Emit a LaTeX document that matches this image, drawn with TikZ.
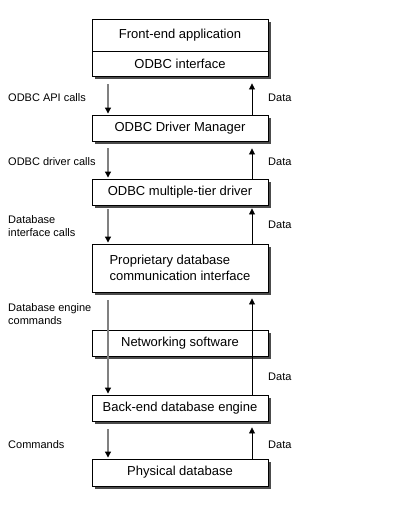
\documentclass[tikz,border=0pt]{standalone}
\usepackage{fontspec}
\setmainfont{Liberation Sans}
\usetikzlibrary{arrows.meta, shadows}

\begin{document}
\begin{tikzpicture}[x=1pt, y=-1pt,
layer/.style = {draw, fill=white, line width=0.9pt,
                minimum width=176pt, inner sep=0pt,
                font=\fontsize{13}{16}\selectfont,
                general shadow={fill=black!70, shadow xshift=3pt, shadow yshift=-3pt}},
note/.style  = {inner sep=0pt, anchor=west, align=left,
                font=\fontsize{11}{13}\selectfont},
calls/.style = {draw=black!50, line width=1.1pt,
                -{Triangle[black, width=6pt, length=6pt]}},
data/.style  = {draw=black, line width=0.8pt,
                -{Triangle[width=6pt, length=6pt]}},
                    ]
\useasboundingbox (0,0) rectangle (409,527);
%-------
\node[layer, minimum height=32pt] (frontend)   at (180,35)    {Front-end application};
\node[layer, minimum height=25pt] (odbcif)     at (180,63.5)  {ODBC interface};
\node[layer, minimum height=26pt] (manager)    at (180,128)   {ODBC Driver Manager};
\node[layer, minimum height=26pt] (multitier)  at (180,192)   {ODBC multiple-tier driver};
\node[layer, minimum height=48pt, align=left]
                                  (proprietary) at (180,268)  {Proprietary database\\
                                                               communication interface};
\node[layer, minimum height=26pt] (network)    at (180,343)   {Networking software};
\node[layer, minimum height=26pt] (backend)    at (180,408)   {Back-end database engine};
\node[layer, minimum height=27pt] (physical)   at (180,472.5) {Physical database};
% labels
\node[note] (apicalls)    at (8,98)    {ODBC API calls};
\node[note] (drvcalls)    at (8,162)   {ODBC driver calls};
\node[note] (ifcalls)     at (8,226.5) {Database\\interface calls};
\node[note] (enginecmds)  at (8,314.5) {Database engine\\commands};
\node[note] (commands)    at (8,445)   {Commands};
%
\node[note] (data1) at (268,98)  {Data};
\node[note] (data2) at (268,162) {Data};
\node[note] (data3) at (268,225) {Data};
\node[note] (data4) at (268,377) {Data};
\node[note] (data5) at (268,445) {Data};
% edges
\path[every edge/.append style=calls]
        ([xshift=-72pt, yshift=-8pt] odbcif.south)      edge ([xshift=-72pt, yshift=1pt] manager.north)
        ([xshift=-72pt, yshift=-7pt] manager.south)     edge ([xshift=-72pt, yshift=1pt] multitier.north)
        ([xshift=-72pt, yshift=-4pt] multitier.south)   edge ([xshift=-72pt, yshift=1pt] proprietary.north)
        ([xshift=-72pt, yshift=-8pt] proprietary.south) edge ([xshift=-72pt, yshift=1pt] backend.north)
        ([xshift=-72pt, yshift=-8pt] backend.south)     edge ([xshift=-72pt, yshift=1pt] physical.north);
\path[every edge/.append style=data]
        ([xshift=72pt] manager.north)     edge ([xshift=72pt, yshift=-7pt] odbcif.south)
        ([xshift=72pt] multitier.north)   edge ([xshift=72pt, yshift=-7pt] manager.south)
        ([xshift=72pt] proprietary.north) edge ([xshift=72pt, yshift=-3pt] multitier.south)
        ([xshift=72pt] backend.north)     edge ([xshift=72pt, yshift=-6pt] proprietary.south)
        ([xshift=72pt] physical.north)    edge ([xshift=72pt, yshift=-6pt] backend.south);
\end{tikzpicture}
\end{document}
